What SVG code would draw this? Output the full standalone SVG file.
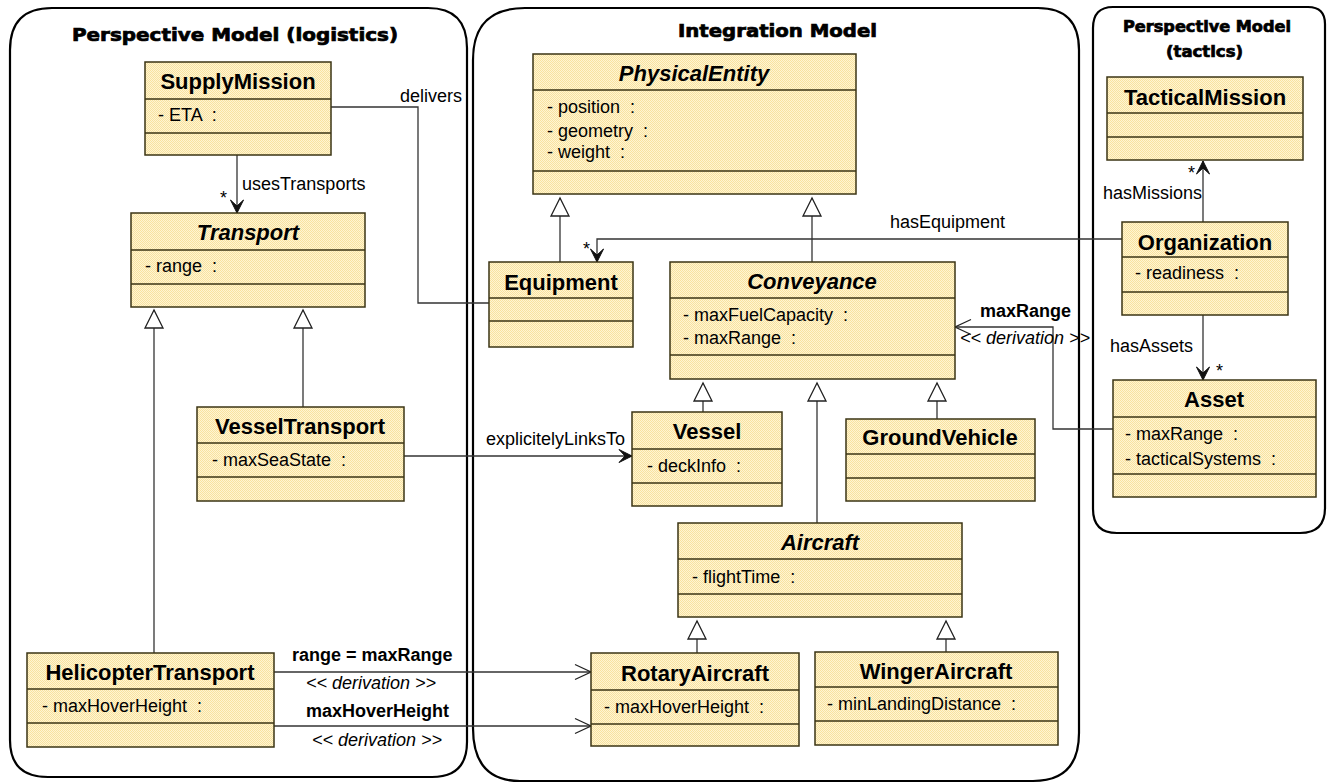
<svg xmlns="http://www.w3.org/2000/svg" width="1327" height="783" viewBox="0 0 1327 783">
<defs>
<pattern id="dither" width="2" height="2" patternUnits="userSpaceOnUse">
<rect width="2" height="2" fill="#FFF5D2"/>
<rect width="1" height="1" fill="#F8E2A0"/>
<rect x="1" y="1" width="1" height="1" fill="#F8E2A0"/>
</pattern>
<marker id="gen" markerUnits="userSpaceOnUse" markerWidth="24" markerHeight="24" viewBox="-20 -12 24 24" refX="0" refY="0" orient="auto" overflow="visible">
<path d="M0,0 L-18,-9 L-18,9 Z" fill="#fff" stroke="#222" stroke-width="1.3"/>
</marker>
<marker id="nav" markerUnits="userSpaceOnUse" markerWidth="20" markerHeight="20" viewBox="-16 -10 20 20" refX="0" refY="0" orient="auto" overflow="visible">
<path d="M0,0 L-13,-6.5 L-7,0 L-13,6.5 Z" fill="#111" stroke="#111" stroke-width="1"/>
</marker>
<marker id="open" markerUnits="userSpaceOnUse" markerWidth="20" markerHeight="20" viewBox="-18 -10 20 20" refX="0" refY="0" orient="auto" overflow="visible">
<path d="M-16,-7.5 L0,0 L-16,7.5" fill="none" stroke="#222" stroke-width="1.3"/>
</marker>
</defs>
<style>
.pkg{fill:none;stroke:#000;stroke-width:2.2}
.box{fill:url(#dither);stroke:#3b3414;stroke-width:1.5}
.sep{stroke:#3b3414;stroke-width:1.5}
.name{font-family:'Liberation Sans',Arial,sans-serif;font-weight:bold;font-size:22px;text-anchor:middle;fill:#000}
.it{font-style:italic}
.attr{font-family:'Liberation Sans',Arial,sans-serif;font-size:18px;fill:#000;white-space:pre}
.lbl{font-family:'Liberation Sans',Arial,sans-serif;font-size:18px;fill:#000;white-space:pre}
.blbl{font-family:'Liberation Sans',Arial,sans-serif;font-size:18px;font-weight:bold;fill:#000}
.ilbl{font-family:'Liberation Sans',Arial,sans-serif;font-size:18px;font-style:italic;fill:#000}
.title{font-family:'DejaVu Sans','Liberation Sans',sans-serif;font-weight:bold;fill:#000;stroke:#000;stroke-width:0.7}
.conn{fill:none;stroke:#333;stroke-width:1.3}
</style>
<rect width="1327" height="783" fill="#fff"/>

<g id="pkg-logistics">
<path class="pkg" d="M10,50 Q10,8 52,8 L428,8 Q467,8 467,48 L467,742 Q467,777 432,777 L48,777 Q10,777 10,740 Z"/>
<text class="title" x="72" y="41" font-size="17" textLength="326" lengthAdjust="spacingAndGlyphs">Perspective Model (logistics)</text>
</g>
<g id="pkg-integration">
<path class="pkg" d="M473,60 Q473,8 525,8 L1038,8 Q1079,8 1079,50 L1079,733 Q1079,781 1033,781 L520,781 Q473,781 473,728 Z"/>
<text class="title" x="678" y="37" font-size="17" textLength="199" lengthAdjust="spacingAndGlyphs">Integration Model</text>
</g>
<g id="pkg-tactics">
<path class="pkg" d="M1093,28 Q1093,7 1113,7 L1308,7 Q1325,7 1325,24 L1325,508 Q1325,533 1300,533 L1117,533 Q1093,533 1093,509 Z"/>
<text class="title" x="1123" y="32" font-size="15" textLength="168" lengthAdjust="spacingAndGlyphs">Perspective Model</text>
<text class="title" x="1166" y="57" font-size="15" textLength="77" lengthAdjust="spacingAndGlyphs">(tactics)</text>
</g>

<g id="connectors">
<path class="conn" d="M154,653 V310" marker-end="url(#gen)"/>
<path class="conn" d="M303,407 V310" marker-end="url(#gen)"/>
<path class="conn" d="M560,262 V198" marker-end="url(#gen)"/>
<path class="conn" d="M812,262 V198" marker-end="url(#gen)"/>
<path class="conn" d="M703,412 V383" marker-end="url(#gen)"/>
<path class="conn" d="M817,523 V383" marker-end="url(#gen)"/>
<path class="conn" d="M937,419 V383" marker-end="url(#gen)"/>
<path class="conn" d="M697,653 V621" marker-end="url(#gen)"/>
<path class="conn" d="M946,652 V621" marker-end="url(#gen)"/>
<path class="conn" d="M237,155 V213" marker-end="url(#nav)"/>
<path class="conn" d="M331,107 H418 V303 H489"/>
<path class="conn" d="M1122,239 H597 V262" marker-end="url(#nav)"/>
<path class="conn" d="M404,456 H632" marker-end="url(#nav)"/>
<path class="conn" d="M1203,222 V161" marker-end="url(#nav)"/>
<path class="conn" d="M1203,315 V380" marker-end="url(#nav)"/>
<path class="conn" d="M1113,429 H1053 V327 H955" marker-end="url(#open)"/>
<path class="conn" d="M274,672 H591" marker-end="url(#open)"/>
<path class="conn" d="M274,726 H591" marker-end="url(#open)"/>
<text class="lbl" x="400" y="102">delivers</text>
<text class="lbl" x="242" y="190">usesTransports</text>
<text class="lbl" x="220" y="204">*</text>
<text class="lbl" x="890" y="228">hasEquipment</text>
<text class="lbl" x="583" y="255">*</text>
<text class="lbl" x="486" y="445">explicitelyLinksTo</text>
<text class="lbl" x="1103" y="199">hasMissions</text>
<text class="lbl" x="1188" y="179">*</text>
<text class="lbl" x="1110" y="352">hasAssets</text>
<text class="lbl" x="1216" y="377">*</text>
<text class="blbl" x="980" y="317">maxRange</text>
<text class="ilbl" x="960" y="344">&lt;&lt; derivation &gt;&gt;</text>
<text class="blbl" x="292" y="661">range = maxRange</text>
<text class="ilbl" x="306" y="689">&lt;&lt; derivation &gt;&gt;</text>
<text class="blbl" x="306" y="717">maxHoverHeight</text>
<text class="ilbl" x="312" y="746">&lt;&lt; derivation &gt;&gt;</text>
</g>

<g id="SupplyMission">
<rect class="box" x="145" y="62" width="186" height="93"/>
<path class="sep" d="M145,99 H331 M145,133 H331"/>
<text class="name" x="238" y="89">SupplyMission</text>
<text class="attr" x="158" y="121">- ETA  :</text>
</g>
<g id="Transport">
<rect class="box" x="131" y="213" width="234" height="94"/>
<path class="sep" d="M131,250 H365 M131,284 H365"/>
<text class="name it" x="248" y="240">Transport</text>
<text class="attr" x="145" y="272">- range  :</text>
</g>
<g id="VesselTransport">
<rect class="box" x="197" y="407" width="207" height="94"/>
<path class="sep" d="M197,443 H404 M197,477 H404"/>
<text class="name" x="300" y="434">VesselTransport</text>
<text class="attr" x="212" y="466">- maxSeaState  :</text>
</g>
<g id="HelicopterTransport">
<rect class="box" x="27" y="653" width="247" height="94"/>
<path class="sep" d="M27,689 H274 M27,723 H274"/>
<text class="name" x="150" y="680">HelicopterTransport</text>
<text class="attr" x="42" y="712">- maxHoverHeight  :</text>
</g>
<g id="PhysicalEntity">
<rect class="box" x="533" y="54" width="323" height="140"/>
<path class="sep" d="M533,90 H856 M533,171 H856"/>
<text class="name it" x="694" y="81">PhysicalEntity</text>
<text class="attr" x="547" y="113">- position  :</text>
<text class="attr" x="547" y="137">- geometry  :</text>
<text class="attr" x="547" y="158">- weight  :</text>
</g>
<g id="Equipment">
<rect class="box" x="489" y="262" width="144" height="85"/>
<path class="sep" d="M489,298 H633 M489,321 H633"/>
<text class="name" x="561" y="290">Equipment</text>
</g>
<g id="Conveyance">
<rect class="box" x="670" y="262" width="285" height="117"/>
<path class="sep" d="M670,298 H955 M670,355 H955"/>
<text class="name it" x="812" y="289">Conveyance</text>
<text class="attr" x="683" y="321">- maxFuelCapacity  :</text>
<text class="attr" x="683" y="344">- maxRange  :</text>
</g>
<g id="Vessel">
<rect class="box" x="632" y="412" width="150" height="94"/>
<path class="sep" d="M632,449 H782 M632,483 H782"/>
<text class="name" x="707" y="439">Vessel</text>
<text class="attr" x="647" y="472">- deckInfo  :</text>
</g>
<g id="GroundVehicle">
<rect class="box" x="846" y="419" width="189" height="82"/>
<path class="sep" d="M846,454 H1035 M846,478 H1035"/>
<text class="name" x="940" y="445">GroundVehicle</text>
</g>
<g id="Aircraft">
<rect class="box" x="678" y="523" width="284" height="94"/>
<path class="sep" d="M678,559 H962 M678,594 H962"/>
<text class="name it" x="820" y="550">Aircraft</text>
<text class="attr" x="692" y="583">- flightTime  :</text>
</g>
<g id="RotaryAircraft">
<rect class="box" x="591" y="653" width="208" height="93"/>
<path class="sep" d="M591,690 H799 M591,724 H799"/>
<text class="name" x="695" y="681">RotaryAircraft</text>
<text class="attr" x="604" y="713">- maxHoverHeight  :</text>
</g>
<g id="WingerAircraft">
<rect class="box" x="815" y="652" width="243" height="93"/>
<path class="sep" d="M815,687 H1058 M815,721 H1058"/>
<text class="name" x="936" y="679">WingerAircraft</text>
<text class="attr" x="827" y="710">- minLandingDistance  :</text>
</g>
<g id="TacticalMission">
<rect class="box" x="1107" y="77" width="196" height="83"/>
<path class="sep" d="M1107,113 H1303 M1107,137 H1303"/>
<text class="name" x="1205" y="105">TacticalMission</text>
</g>
<g id="Organization">
<rect class="box" x="1122" y="222" width="166" height="93"/>
<path class="sep" d="M1122,257 H1288 M1122,292 H1288"/>
<text class="name" x="1205" y="250">Organization</text>
<text class="attr" x="1135" y="279">- readiness  :</text>
</g>
<g id="Asset">
<rect class="box" x="1113" y="380" width="203" height="117"/>
<path class="sep" d="M1113,417 H1316 M1113,474 H1316"/>
<text class="name" x="1214" y="407">Asset</text>
<text class="attr" x="1125" y="440">- maxRange  :</text>
<text class="attr" x="1125" y="465">- tacticalSystems  :</text>
</g>
</svg>
